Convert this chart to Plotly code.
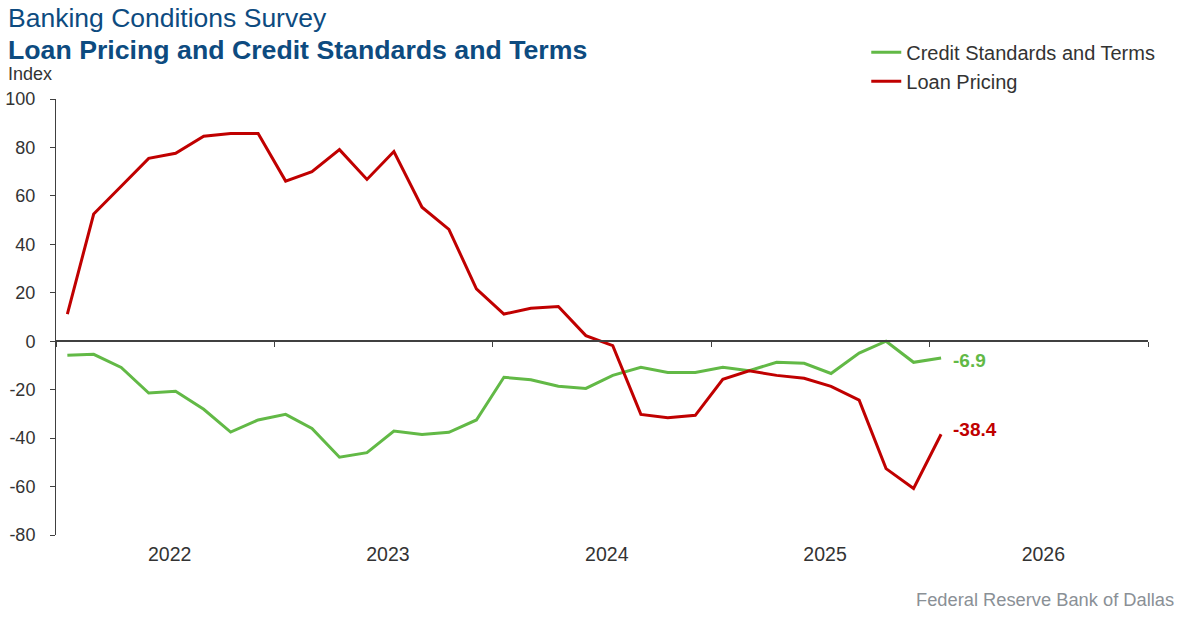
import plotly.graph_objects as go

# ---- data ----
dates = [
    "2022-01-20", "2022-03-05", "2022-04-20", "2022-06-05", "2022-07-20", "2022-09-05", "2022-10-20", "2022-12-05",
    "2023-01-20", "2023-03-05", "2023-04-20", "2023-06-05", "2023-07-20", "2023-09-05", "2023-10-20", "2023-12-05",
    "2024-01-20", "2024-03-05", "2024-04-20", "2024-06-05", "2024-07-20", "2024-09-05", "2024-10-20", "2024-12-05",
    "2025-01-20", "2025-03-05", "2025-04-20", "2025-06-05", "2025-07-20", "2025-09-05", "2025-10-20", "2025-12-05",
    "2026-01-20",
]
credit_standards = [
    -5.8, -5.4, -10.8, -21.4, -20.7, -28.1, -37.5, -32.5,
    -30.2, -36.0, -47.9, -46.0, -37.1, -38.5, -37.6, -32.5,
    -14.9, -15.9, -18.6, -19.5, -14.1, -10.8, -12.9, -12.9,
    -10.8, -12.2, -8.7, -9.1, -13.3, -4.9, 0.0, -8.7,
    -6.9,
]
loan_pricing = [
    11.2, 52.5, 64.0, 75.5, 77.6, 84.6, 85.8, 85.8,
    66.1, 70.0, 79.1, 66.8, 78.3, 55.3, 46.2, 21.6,
    11.2, 13.6, 14.3, 2.3, -1.8, -30.2, -31.6, -30.6,
    -15.7, -12.2, -14.1, -15.3, -18.6, -24.3, -52.6, -60.8,
    -38.4,
]
year_labels = ["2022", "2023", "2024", "2025", "2026"]
year_mid = ["2022-07-10", "2023-07-10", "2024-07-10", "2025-07-10", "2026-07-10"]
year_starts = ["2022-01-01", "2023-01-01", "2024-01-01", "2025-01-01", "2026-01-01", "2027-01-01"]
y_ticks = [-80, -60, -40, -20, 0, 20, 40, 60, 80, 100]

GREEN = "#62b946"
RED = "#c00000"
AXIS = "#404040"
TXT = "#333333"
BLUE = "#0d4b80"
FONT = "Liberation Sans, Arial, sans-serif"

fig = go.Figure()
fig.add_trace(go.Scatter(x=dates, y=credit_standards, mode="lines", name="Credit Standards and Terms",
                         line=dict(color=GREEN, width=3)))
fig.add_trace(go.Scatter(x=dates, y=loan_pricing, mode="lines", name="Loan Pricing",
                         line=dict(color=RED, width=3)))
# helper trace so the zero-positioned axis is rendered
fig.add_trace(go.Scatter(x=[dates[0]], y=[0], xaxis="x2", mode="markers", marker=dict(opacity=0),
                         showlegend=False, hoverinfo="skip"))

fig.update_layout(
    width=1187, height=617,
    margin=dict(l=56, r=39, t=99, b=82, autoexpand=False),
    paper_bgcolor="white", plot_bgcolor="white",
    font=dict(family=FONT, color=TXT, size=18),
    showlegend=True,
    legend=dict(x=0.742, y=1.152, xanchor="left", yanchor="top", bgcolor="rgba(0,0,0,0)",
                font=dict(size=20, color=TXT), tracegroupgap=0, itemwidth=30),
    xaxis=dict(type="date", range=["2022-01-01", "2027-01-01"], tickmode="array",
               tickvals=year_mid, ticktext=year_labels, ticks="", showline=False, automargin=False,
               showgrid=False, zeroline=False, tickfont=dict(size=19.5, color=TXT),
               ticklabelstandoff=5),
    xaxis2=dict(type="date", overlaying="x", matches="x", anchor="free", position=80 / 180,
                side="bottom", tickmode="array", tickvals=year_starts, ticks="outside", ticklen=5,
                tickcolor=AXIS, tickwidth=1, showticklabels=False, showline=True, automargin=False,
                linecolor=AXIS, linewidth=1.5, showgrid=False, zeroline=False),
    yaxis=dict(range=[-80, 100], tickmode="array", tickvals=y_ticks,
               ticktext=[str(v) for v in y_ticks], ticks="outside", ticklen=5, automargin=False,
               tickcolor=AXIS, showline=True, linecolor=AXIS, linewidth=1, showgrid=False,
               zeroline=False, tickfont=dict(size=18, color=TXT), ticklabelstandoff=11),
)

# titles
fig.add_annotation(text="Banking Conditions Survey", xref="paper", yref="paper",
                   x=-0.046, y=1.186, xanchor="left", yanchor="middle", showarrow=False,
                   font=dict(size=26.5, color=BLUE))
fig.add_annotation(text="<b>Loan Pricing and Credit Standards and Terms</b>", xref="paper", yref="paper",
                   x=-0.046, y=1.112, xanchor="left", yanchor="middle", showarrow=False,
                   font=dict(size=26.7, color=BLUE))
fig.add_annotation(text="Index", xref="paper", yref="paper", x=-0.046, y=1.057,
                   xanchor="left", yanchor="middle", showarrow=False, font=dict(size=18, color=TXT))
fig.add_annotation(text="Federal Reserve Bank of Dallas", xref="paper", yref="paper", x=1.0256, y=-0.147,
                   xanchor="right", yanchor="middle", showarrow=False, font=dict(size=18.3, color="#8a9096"))

# end labels
fig.add_annotation(text=f"<b>{credit_standards[-1]}</b>", x=dates[-1], y=credit_standards[-1],
                   xanchor="left", yanchor="middle", xshift=10, yshift=-3, showarrow=False,
                   font=dict(size=19, color=GREEN))
fig.add_annotation(text=f"<b>{loan_pricing[-1]}</b>", x=dates[-1], y=loan_pricing[-1],
                   xanchor="left", yanchor="middle", xshift=10, yshift=5, showarrow=False,
                   font=dict(size=19, color=RED))

fig.write_html("out.html", config={"displayModeBar": False},
               post_script="document.body.style.margin='0';")
